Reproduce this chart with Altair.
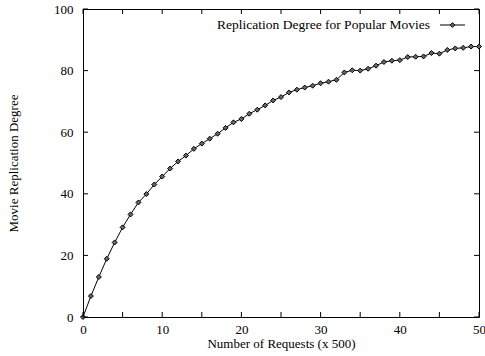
import altair as alt
import pandas as pd

requests = list(range(51))
degree = [0, 6.8, 13.0, 18.9, 24.2, 29.1, 33.3, 37.2, 39.9, 43.0,
          45.6, 48.2, 50.5, 52.4, 54.6, 56.3, 57.9, 59.5, 61.4, 63.2,
          64.3, 66.0, 67.3, 68.7, 70.3, 71.4, 72.9, 73.8, 74.5, 75.1,
          75.9, 76.4, 77.0, 79.4, 80.1, 80.0, 80.6, 81.6, 82.8, 83.2,
          83.4, 84.4, 84.5, 84.6, 85.7, 85.5, 86.7, 87.2, 87.4, 87.8, 87.8]
x_ticks = [0, 5, 10, 15, 20, 25, 30, 35, 40, 45, 50]
y_ticks = [0, 20, 40, 60, 80, 100]
legend_label = "Replication Degree for Popular Movies"

W, H = 396, 308
FONT = "Liberation Serif"

df = pd.DataFrame({"x": requests, "y": degree})
xt = pd.DataFrame({"x": x_ticks})
yt = pd.DataFrame({"y": y_ticks})
lg = pd.DataFrame({"label": [legend_label]})

xscale = alt.Scale(domain=[0, 50], nice=False, zero=False)
yscale = alt.Scale(domain=[0, 100], nice=False)

xenc = alt.X("x:Q", scale=xscale, title="Number of Requests (x 500)",
             axis=alt.Axis(values=x_ticks, tickSize=0, domain=False, grid=False,
                           labelPadding=6, titlePadding=1, labelFlush=False,
                           labelFont=FONT, titleFont=FONT))
yenc = alt.Y("y:Q", scale=yscale, title="Movie Replication Degree",
             axis=alt.Axis(values=y_ticks, tickSize=0, domain=False, grid=False,
                           labelPadding=10, titlePadding=33,
                           labelFont=FONT, titleFont=FONT))

line = alt.Chart(df).mark_line(color="black", strokeWidth=1).encode(x=xenc, y=yenc)
pts = alt.Chart(df).mark_point(shape="diamond", filled=True, fill="#666666",
                               stroke="black", strokeWidth=1, size=25, opacity=1).encode(
    x=alt.X("x:Q", scale=xscale), y=alt.Y("y:Q", scale=yscale))

tb = alt.Chart(xt).mark_rule(color="black").encode(
    x=alt.X("x:Q", scale=xscale), y=alt.value(H), y2=alt.value(H - 5))
tt = alt.Chart(xt).mark_rule(color="black").encode(
    x=alt.X("x:Q", scale=xscale), y=alt.value(0), y2=alt.value(5))
tl = alt.Chart(yt).mark_rule(color="black").encode(
    y=alt.Y("y:Q", scale=yscale), x=alt.value(0), x2=alt.value(5))
tr = alt.Chart(yt).mark_rule(color="black").encode(
    y=alt.Y("y:Q", scale=yscale), x=alt.value(W), x2=alt.value(W - 5))

ltxt = alt.Chart(lg).mark_text(align="right", baseline="middle", font=FONT,
                               fontSize=13.5, color="black").encode(
    text="label:N", x=alt.value(347), y=alt.value(16))
lrule = alt.Chart(lg).mark_rule(color="black", strokeWidth=1).encode(
    x=alt.value(357), x2=alt.value(382), y=alt.value(16))
lpt = alt.Chart(lg).mark_point(shape="diamond", filled=True, fill="#666666",
                               stroke="black", strokeWidth=1, size=22, opacity=1).encode(
    x=alt.value(369.5), y=alt.value(16))

chart = alt.layer(line, pts, tb, tt, tl, tr, ltxt, lrule, lpt).properties(
    width=W, height=H, autosize="none", background="white",
    padding={"left": 83, "top": 9, "right": 6, "bottom": 39},
).configure_view(stroke="black", strokeWidth=1).configure_axis(
    labelFont=FONT, titleFont=FONT, labelFontSize=13, titleFontSize=13,
    titleFontWeight="normal", labelColor="black", titleColor="black",
)

chart.save("out.html", embed_options={"renderer": "svg", "actions": False})
